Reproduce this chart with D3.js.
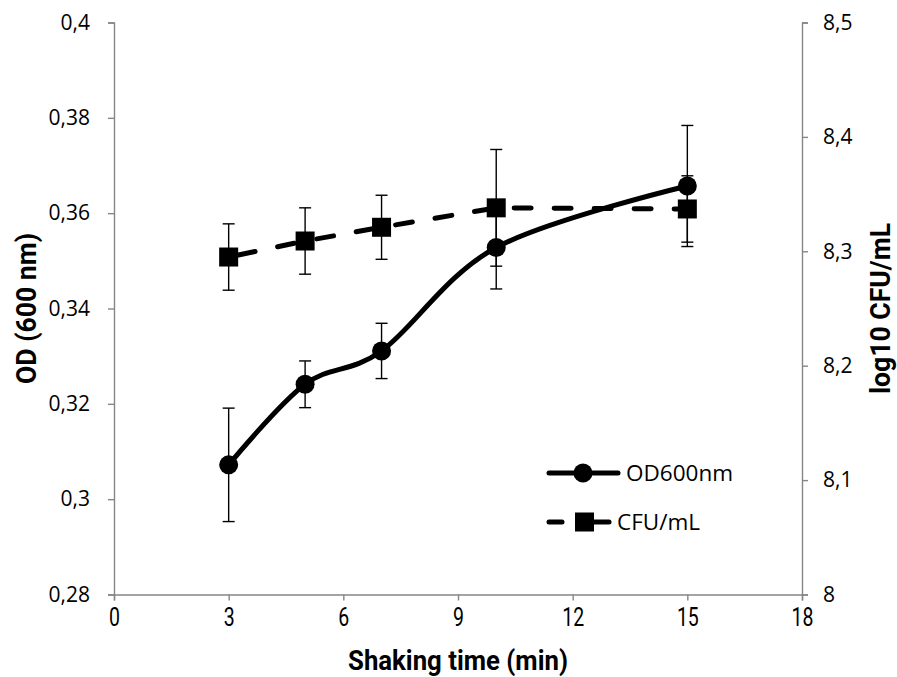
<!DOCTYPE html>
<html>
<head>
<meta charset="utf-8">
<script src="https://cdn.jsdelivr.net/npm/d3@7"></script>
<style>
  body { margin: 0; background: #fff; }
  .tick text { fill: #000; }
</style>
</head>
<body>
<div id="chart"></div>
<script>
// data
var time = [3, 5, 7, 10, 15]
var od = [0.3072, 0.3241, 0.3311, 0.3528, 0.3657]
var odErr = [0.0119, 0.0049, 0.0058, 0.0087, 0.0127]
var cfu = [8.295, 8.309, 8.321, 8.338, 8.337]
var cfuErr = [0.029, 0.029, 0.028, 0.051, 0.029]

var xTicks = [0, 3, 6, 9, 12, 15, 18]
var yLeftTicks = [0.28, 0.3, 0.32, 0.34, 0.36, 0.38, 0.4]
var yRightTicks = [8, 8.1, 8.2, 8.3, 8.4, 8.5]

var W = 897, H = 677
var pLeft = 114, pRight = 802, pTop = 22.5, pBottom = 594.5

var svg = d3.select("#chart").append("svg")
    .attr("width", W)
    .attr("height", H)

var x = d3.scaleLinear().domain([0, 18]).range([pLeft, pRight])
var yL = d3.scaleLinear().domain([0.28, 0.4]).range([pBottom, pTop])
var yR = d3.scaleLinear().domain([8, 8.5]).range([pBottom, pTop])

function comma(v) { return String(+v.toFixed(2)).replace(".", ",") }

var condensed = "Roboto, 'Liberation Sans', sans-serif"

// axes
var gx = svg.append("g")
    .attr("transform", "translate(0," + pBottom + ")")
    .call(d3.axisBottom(x).tickValues(xTicks).tickSize(6).tickPadding(8).tickFormat(d3.format("d")))
var gl = svg.append("g")
    .attr("transform", "translate(" + pLeft + ",0)")
    .call(d3.axisLeft(yL).tickValues(yLeftTicks).tickSize(6).tickPadding(18).tickFormat(comma))
var gr = svg.append("g")
    .attr("transform", "translate(" + pRight + ",0)")
    .call(d3.axisRight(yR).tickValues(yRightTicks).tickSize(6).tickPadding(15).tickFormat(comma))

;[gx, gl, gr].forEach(function (g) {
  g.select(".domain").attr("stroke", "#868686").attr("stroke-width", 1.4)
  g.selectAll(".tick line").attr("stroke", "#868686").attr("stroke-width", 1.4)
})
gl.selectAll(".tick text").style("font-family", "'Open Sans', sans-serif").style("font-size", "21px")
gr.selectAll(".tick text").style("font-family", "'Open Sans', sans-serif").style("font-size", "21px")
gx.selectAll(".tick text").style("font-family", condensed)
  .style("font-size", "25px")
  .attr("transform", "scale(0.78,1)")

// axis titles
svg.append("text")
    .attr("transform", "translate(36," + ((pTop + pBottom) / 2) + ") rotate(-90) scale(0.95,1)")
    .attr("text-anchor", "middle")
    .style("font-family", condensed)
    .style("font-weight", "bold")
    .style("font-size", "28px")
    .text("OD (600 nm)")

svg.append("text")
    .attr("transform", "translate(890," + ((pTop + pBottom) / 2) + ") rotate(-90) scale(0.95,1)")
    .attr("text-anchor", "middle")
    .style("font-family", condensed)
    .style("font-weight", "bold")
    .style("font-size", "28px")
    .text("log10 CFU/mL")

svg.append("text")
    .attr("transform", "translate(" + ((pLeft + pRight) / 2) + ",670) scale(0.92,1)")
    .attr("text-anchor", "middle")
    .style("font-family", condensed)
    .style("font-weight", "bold")
    .style("font-size", "28px")
    .text("Shaking time (min)")

var odData = time.map(function (t, i) { return { t: t, v: od[i], e: odErr[i] } })
var cfuData = time.map(function (t, i) { return { t: t, v: cfu[i], e: cfuErr[i] } })

// error bars
function errorBars(data, y) {
  var g = svg.append("g").attr("stroke", "#000").attr("stroke-width", 1.4)
  g.selectAll(".v").data(data).enter().append("line")
    .attr("x1", function (d) { return x(d.t) }).attr("x2", function (d) { return x(d.t) })
    .attr("y1", function (d) { return y(d.v - d.e) }).attr("y2", function (d) { return y(d.v + d.e) })
  ;[-1, 1].forEach(function (s) {
    g.selectAll(".c" + s).data(data).enter().append("line")
      .attr("x1", function (d) { return x(d.t) - 6 }).attr("x2", function (d) { return x(d.t) + 6 })
      .attr("y1", function (d) { return y(d.v + s * d.e) }).attr("y2", function (d) { return y(d.v + s * d.e) })
  })
}
errorBars(odData, yL)
errorBars(cfuData, yR)

// OD line (smoothed) + circles
var odLine = d3.line()
    .x(function (d) { return x(d.t) })
    .y(function (d) { return yL(d.v) })
    .curve(d3.curveCardinal.tension(0))
svg.append("path")
    .datum(odData)
    .attr("d", odLine)
    .attr("fill", "none")
    .attr("stroke", "#000")
    .attr("stroke-width", 5)
    .attr("stroke-linejoin", "round")
svg.selectAll(".odpt").data(odData).enter().append("circle")
    .attr("cx", function (d) { return x(d.t) })
    .attr("cy", function (d) { return yL(d.v) })
    .attr("r", 9.5)
    .attr("fill", "#000")

// CFU line (dashed) + squares
var cfuLine = d3.line()
    .x(function (d) { return x(d.t) })
    .y(function (d) { return yR(d.v) })
svg.append("path")
    .datum(cfuData)
    .attr("d", cfuLine)
    .attr("fill", "none")
    .attr("stroke", "#000")
    .attr("stroke-width", 5)
    .attr("stroke-linecap", "round")
    .attr("stroke-dasharray", "17,23")
    .attr("stroke-dashoffset", -10)
svg.selectAll(".cfupt").data(cfuData).enter().append("rect")
    .attr("x", function (d) { return x(d.t) - 9.5 })
    .attr("y", function (d) { return yR(d.v) - 9.5 })
    .attr("width", 19)
    .attr("height", 19)
    .attr("fill", "#000")

// legend
var lg = svg.append("g")
lg.append("line").attr("x1", 549).attr("x2", 618).attr("y1", 473).attr("y2", 473)
    .attr("stroke", "#000").attr("stroke-width", 5).attr("stroke-linecap", "round")
lg.append("circle").attr("cx", 583).attr("cy", 473).attr("r", 9.5).attr("fill", "#000")
lg.append("text").attr("x", 626).attr("y", 473).attr("dy", "0.35em")
    .style("font-family", "'Open Sans', sans-serif").style("font-size", "22.5px")
    .text("OD600nm")

lg.append("line").attr("x1", 549).attr("x2", 562).attr("y1", 522).attr("y2", 522)
    .attr("stroke", "#000").attr("stroke-width", 5).attr("stroke-linecap", "round")
lg.append("line").attr("x1", 594).attr("x2", 609).attr("y1", 522).attr("y2", 522)
    .attr("stroke", "#000").attr("stroke-width", 5).attr("stroke-linecap", "round")
lg.append("rect").attr("x", 575).attr("y", 512.5).attr("width", 19).attr("height", 19).attr("fill", "#000")
lg.append("text").attr("x", 617).attr("y", 522).attr("dy", "0.35em")
    .style("font-family", "'Open Sans', sans-serif").style("font-size", "22.5px")
    .text("CFU/mL")
</script>
</body>
</html>
